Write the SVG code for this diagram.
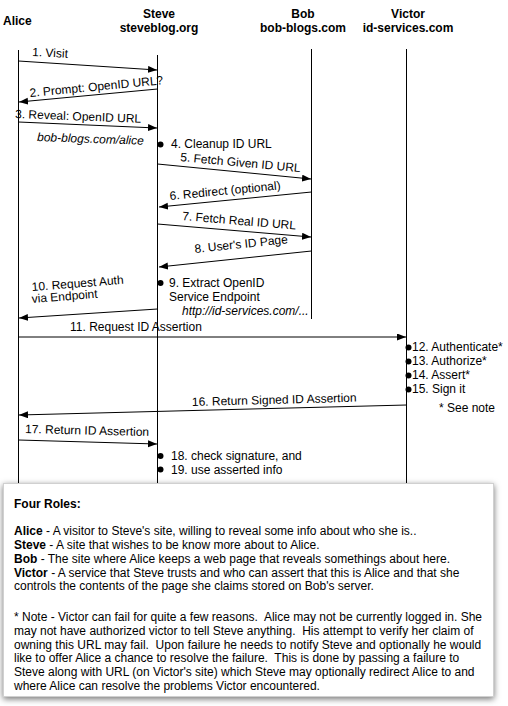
<svg xmlns="http://www.w3.org/2000/svg" width="508" height="706" viewBox="0 0 508 706">
<style>
text{font-family:"Liberation Sans",Arial,sans-serif;font-size:12px;fill:#000}
.h{font-weight:bold}
.c{text-anchor:middle}
.i{font-style:italic}
.life{stroke:#000;stroke-width:1;fill:none}
.msg{stroke:#000;stroke-width:1;fill:none;marker-end:url(#ah)}
.dot{fill:#000}
</style>
<defs>
<marker id="ah" markerUnits="userSpaceOnUse" markerWidth="10" markerHeight="8" refX="9" refY="3.5" orient="auto">
<path d="M0,0 L9,3.5 L0,7 z" fill="#000"/>
</marker>
<filter id="sh" x="-5%" y="-5%" width="110%" height="115%">
<feDropShadow dx="0" dy="2" stdDeviation="3" flood-color="#000" flood-opacity="0.55"/>
</filter>
</defs>
<rect width="508" height="706" fill="#fff"/>
<g id="alice">
<text class="h" x="3" y="25">Alice</text>
<line class="life" x1="18.5" y1="50" x2="18.5" y2="483"/>
</g>
<g id="steve">
<text class="h c" x="159" y="18">Steve</text>
<text class="h c" x="159" y="32">steveblog.org</text>
<line class="life" x1="157.5" y1="55" x2="157.5" y2="483"/>
</g>
<g id="bob">
<text class="h c" x="303" y="18">Bob</text>
<text class="h c" x="303" y="32">bob-blogs.com</text>
<line class="life" x1="311.5" y1="49" x2="311.5" y2="319"/>
</g>
<g id="victor">
<text class="h c" x="408" y="18">Victor</text>
<text class="h c" x="408" y="32">id-services.com</text>
<line class="life" x1="406.5" y1="49" x2="406.5" y2="483"/>
</g>
<g id="connectors">
<line class="msg" x1="18.5" y1="61" x2="157" y2="70"/>
<line class="msg" x1="157.5" y1="89" x2="19" y2="102"/>
<line class="msg" x1="18.5" y1="122" x2="157" y2="128"/>
<line class="msg" x1="157.5" y1="164" x2="311" y2="179"/>
<line class="msg" x1="311.5" y1="192" x2="159" y2="207"/>
<line class="msg" x1="157.5" y1="224" x2="311" y2="237"/>
<line class="msg" x1="311.5" y1="251" x2="159" y2="267"/>
<line class="msg" x1="157.5" y1="309" x2="19" y2="318"/>
<line class="msg" x1="18.5" y1="337" x2="406" y2="337"/>
<line class="msg" x1="406.5" y1="405" x2="19" y2="415"/>
<line class="msg" x1="18.5" y1="440" x2="157" y2="444"/>
</g>
<g id="labels">
<text x="32" y="56" transform="rotate(3 32 56)">1. Visit</text>
<text x="30" y="97" transform="rotate(-5.5 30 97)">2. Prompt: OpenID URL?</text>
<text x="15" y="118" transform="rotate(2.2 15 118)">3. Reveal: OpenID URL</text>
<text class="i" x="37" y="141" transform="rotate(2 37 141)">bob-blogs.com/alice</text>
<text x="171" y="148">4. Cleanup ID URL</text>
<text x="180" y="161" transform="rotate(5.3 180 161)">5. Fetch Given ID URL</text>
<text x="170" y="200" transform="rotate(-5.5 170 200)">6. Redirect (optional)</text>
<text x="182" y="220" transform="rotate(4.8 182 220)">7. Fetch Real ID URL</text>
<text x="195" y="253" transform="rotate(-6 195 253)">8. User's ID Page</text>
<text x="169" y="287">9. Extract OpenID</text>
<text x="169" y="301">Service Endpoint</text>
<text class="i" x="182" y="315">http://id-services.com/...</text>
<text x="32" y="291" transform="rotate(-4.5 32 291)">10. Request Auth</text>
<text x="32" y="303" transform="rotate(-4.5 32 303)">via Endpoint</text>
<text x="70" y="331">11. Request ID Assertion</text>
<text x="412" y="351">12. Authenticate*</text>
<text x="412" y="365">13. Authorize*</text>
<text x="412" y="379">14. Assert*</text>
<text x="412" y="393">15. Sign it</text>
<text x="439" y="412">* See note</text>
<text x="192" y="406" transform="rotate(-1.5 192 406)">16. Return Signed ID Assertion</text>
<text x="25" y="433" transform="rotate(1.4 25 433)">17. Return ID Assertion</text>
<text x="171" y="460">18. check signature, and</text>
<text x="171" y="474">19. use asserted info</text>
</g>
<g id="dots">
<circle class="dot" cx="160.5" cy="144.5" r="3"/>
<circle class="dot" cx="160.5" cy="283" r="3"/>
<circle class="dot" cx="408.5" cy="347.5" r="3"/>
<circle class="dot" cx="408.5" cy="361.5" r="3"/>
<circle class="dot" cx="408.5" cy="375.5" r="3"/>
<circle class="dot" cx="408.5" cy="389.5" r="3"/>
<circle class="dot" cx="160.5" cy="456" r="3"/>
<circle class="dot" cx="160.5" cy="469.5" r="3"/>
</g>
<g id="roles-note">
<rect x="3.5" y="483.5" width="490" height="213" fill="#fff" stroke="#d0d0d0" stroke-width="1" filter="url(#sh)"/>
<text class="h" x="14" y="508">Four Roles:</text>
<text x="14" y="535"><tspan class="h">Alice</tspan> - A visitor to Steve's site, willing to reveal some info about who she is..</text>
<text x="14" y="549"><tspan class="h">Steve</tspan> - A site that wishes to be know more about to Alice.</text>
<text x="14" y="563"><tspan class="h">Bob</tspan> - The site where Alice keeps a web page that reveals somethings about here.</text>
<text x="14" y="577"><tspan class="h">Victor</tspan> - A service that Steve trusts and who can assert that this is Alice and that she</text>
<text x="14" y="590">controls the contents of the page she claims stored on Bob's server.</text>
<text x="14" y="621" xml:space="preserve">* Note - Victor can fail for quite a few reasons.  Alice may not be currently logged in. She</text>
<text x="14" y="635" xml:space="preserve">may not have authorized victor to tell Steve anything.  His attempt to verify her claim of</text>
<text x="14" y="649" xml:space="preserve">owning this URL may fail.  Upon failure he needs to notify Steve and optionally he would</text>
<text x="14" y="662" xml:space="preserve">like to offer Alice a chance to resolve the failure.  This is done by passing a failure to</text>
<text x="14" y="676" xml:space="preserve">Steve along with URL (on Victor's site) which Steve may optionally redirect Alice to and</text>
<text x="14" y="690" xml:space="preserve">where Alice can resolve the problems Victor encountered.</text>
</g>
</svg>
